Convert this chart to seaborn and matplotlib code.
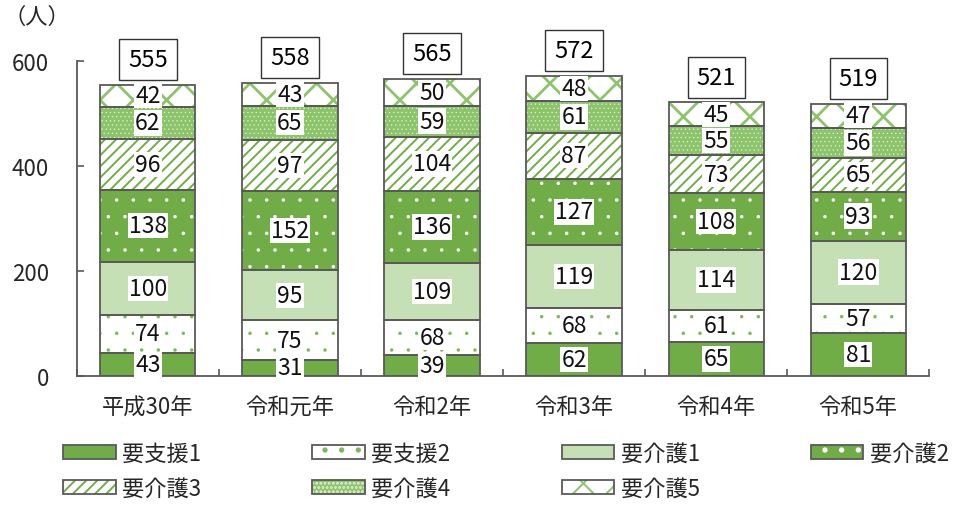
import matplotlib
matplotlib.use("Agg")
import matplotlib.pyplot as plt
from matplotlib.patches import Rectangle
from matplotlib.legend_handler import HandlerTuple
import seaborn as sns
import numpy as np

# --- data -------------------------------------------------------------
years = ["平成30年", "令和元年", "令和2年", "令和3年", "令和4年", "令和5年"]
series_names = ["要支援1", "要支援2", "要介護1", "要介護2", "要介護3", "要介護4", "要介護5"]
shien1 = [43, 31, 39, 62, 65, 81]
shien2 = [74, 75, 68, 68, 61, 57]
kaigo1 = [100, 95, 109, 119, 114, 120]
kaigo2 = [138, 152, 136, 127, 108, 93]
kaigo3 = [96, 97, 104, 87, 73, 65]
kaigo4 = [62, 65, 59, 61, 55, 56]
kaigo5 = [42, 43, 50, 48, 45, 47]
y_ticks = [0, 200, 400, 600]

# --- style ------------------------------------------------------------
sns.set_theme(style="white")
plt.rcParams["font.family"] = ["Noto Sans CJK JP", "DejaVu Sans"]
plt.rcParams["hatch.linewidth"] = 1.4

GREEN = "#70AD47"
LIGHT = "#C5E0B4"
EDGE = "#595959"

# face colour, hatch pattern, hatch colour, hatch linewidth
styles = [
    (GREEN, None, GREEN, 1.0),
    ("white", ".", "#7DB85A", 0.1),
    (LIGHT, None, LIGHT, 1.0),
    (GREEN, ".", "white", 0.1),
    ("white", "///", GREEN, 1.4),
    ("#8CC46A", "....", "#E4F1DA", 0.4),
    ("white", "x", "#8CC46A", 2.0),
]

fig = plt.figure(figsize=(9.6, 5.06), dpi=100)
ax = fig.add_axes([0.080, 0.255, 0.888, 0.6225])

layers = [shien1, shien2, kaigo1, kaigo2, kaigo3, kaigo4, kaigo5]
bottom = np.zeros(len(years))
legend_handles = []
for name, vals, (fc, hatch, hc, hlw) in zip(series_names, layers, styles):
    n_before = len(ax.patches)
    sns.barplot(x=years, y=vals, bottom=bottom, color=fc, saturation=1,
                width=0.67, errorbar=None, hatch=hatch, edgecolor=hc,
                linewidth=0, ax=ax)
    new = ax.patches[n_before:]
    for p in new:
        if hasattr(p, "set_hatch_linewidth"):
            p.set_hatch_linewidth(hlw)
        ax.add_patch(Rectangle(p.get_xy(), p.get_width(), p.get_height(),
                               fill=False, edgecolor=EDGE, linewidth=1.3,
                               zorder=3))
        cx = p.get_x() + p.get_width() / 2
        cy = p.get_y() + p.get_height() / 2
        ax.text(cx, cy, f"{p.get_height():.0f}", ha="center", va="center",
                fontsize=16.5, color="#111111", zorder=5,
                bbox=dict(facecolor="white", edgecolor="none", pad=0.8))
    # legend key: patterned fill with a grey outline on top
    h_fill = Rectangle((0, 0), 1, 1, facecolor=fc, hatch=hatch, edgecolor=hc,
                       linewidth=0)
    if hasattr(h_fill, "set_hatch_linewidth"):
        h_fill.set_hatch_linewidth(hlw)
    h_line = Rectangle((0, 0), 1, 1, fill=False, edgecolor=EDGE, linewidth=1.3)
    legend_handles.append((h_fill, h_line))
    bottom = bottom + np.array(vals)

# totals above each stack
totals = bottom
for i, t in enumerate(totals):
    ax.annotate(f"{t:.0f}", xy=(i, t), xytext=(0, 10), textcoords="offset points",
                ha="center", va="bottom", fontsize=17, color="black",
                zorder=6,
                bbox=dict(boxstyle="square,pad=0.38", facecolor="white",
                          edgecolor="#333333", linewidth=1.0))

# --- axes -------------------------------------------------------------
ax.set_xlim(-0.5, len(years) - 0.5)
ax.set_ylim(0, 600)
ax.set_yticks(y_ticks)
ax.set_xlabel("")
ax.set_ylabel("")
for s in ["top", "right"]:
    ax.spines[s].set_visible(False)
for s in ["left", "bottom"]:
    ax.spines[s].set_color(EDGE)
    ax.spines[s].set_linewidth(1.3)
ax.tick_params(axis="y", direction="in", length=5, width=1.2, color=EDGE,
               labelsize=16, pad=20, left=True)
ax.tick_params(axis="x", which="major", length=0, labelsize=16, pad=14)
ax.set_xticks(np.arange(-0.5, len(years) + 0.5, 1), minor=True)
ax.tick_params(axis="x", which="minor", direction="in", length=5, width=1.2,
               color=EDGE, bottom=True)

fig.text(0.004, 0.965, "（人）", fontsize=16, ha="left", va="center")

# legend laid out in two rows
order = [0, 4, 1, 5, 2, 6, 3]
fig.legend([legend_handles[i] for i in order], [series_names[i] for i in order],
           handler_map={tuple: HandlerTuple(ndivide=1, pad=0)},
           ncol=4, loc="upper left", bbox_to_anchor=(0.066, 0.125),
           frameon=False, fontsize=16, handlelength=2.35, handleheight=0.55,
           handletextpad=0.3, columnspacing=5.0, labelspacing=0.55,
           borderpad=0, borderaxespad=0)

fig.savefig("out.png", dpi=100)
